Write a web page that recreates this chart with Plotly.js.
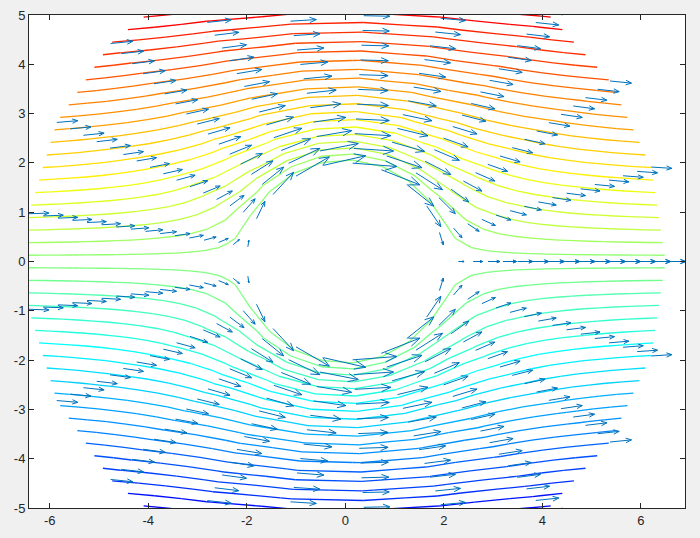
<!DOCTYPE html>
<html><head><meta charset="utf-8">
<script src="https://cdn.plot.ly/plotly-3.0.1.min.js"></script>
<style>html,body{margin:0;padding:0;background:#f0f0f0;}#chart{width:700px;height:538px;}</style>
</head><body><div id="chart"></div>
<script>
// Polar sampling grid (radius 2 .. 6.5, step 0.3; 22 spokes)
const radii = [2.0, 2.3, 2.6, 2.9, 3.2, 3.5, 3.8, 4.1, 4.4, 4.7, 5.0, 5.3, 5.6, 5.9, 6.2, 6.5];
const anglesDeg = [0, 17.143, 34.286, 51.429, 68.571, 85.714, 102.857, 120, 137.143, 154.286, 171.429,
  188.571, 205.714, 222.857, 240, 257.143, 274.286, 291.429, 308.571, 325.714, 342.857, 360];
// Stream function on the grid: one row per spoke, one column per radius
const streamFunction = [
  [0,0,0,0,0,0,0,0,0,0,0,0,0,0,0,0],
  [0,0.1653,0.3129,0.4482,0.5748,0.6948,0.8098,0.9210,1.0290,1.1345,1.2380,1.3398,1.4401,1.5393,1.6373,1.7346],
  [0,0.3160,0.5980,0.8566,1.0985,1.3278,1.5477,1.7600,1.9665,2.1682,2.3659,2.5605,2.7522,2.9417,3.1292,3.3149],
  [0,0.4385,0.8299,1.1889,1.5246,1.8429,2.1480,2.4427,2.7293,3.0092,3.2837,3.5536,3.8198,4.0827,4.3429,4.6008],
  [0,0.5221,0.9882,1.4156,1.8152,2.1942,2.5574,2.9084,3.2496,3.5829,3.9097,4.2311,4.5480,4.8610,5.1708,5.4778],
  [0,0.5593,1.0586,1.5164,1.9445,2.3505,2.7397,3.1156,3.4811,3.8382,4.1882,4.5326,4.8720,5.2074,5.5393,5.8681],
  [0,0.5468,1.0349,1.4826,1.9011,2.2981,2.6785,3.0461,3.4034,3.7525,4.0947,4.4313,4.7632,5.0911,5.4156,5.7371],
  [0,0.4857,0.9193,1.3170,1.6888,2.0414,2.3793,2.7058,3.0232,3.3333,3.6373,3.9364,4.2312,4.5224,4.8107,5.0963],
  [0,0.3815,0.7220,1.0343,1.3263,1.6033,1.8687,2.1251,2.3744,2.6179,2.8567,3.0916,3.3231,3.5519,3.7782,4.0025],
  [0,0.2434,0.4606,0.6598,0.8461,1.0227,1.1920,1.3556,1.5146,1.6700,1.8223,1.9721,2.1198,2.2657,2.4101,2.5532],
  [0,0.0836,0.1582,0.2266,0.2906,0.3513,0.4095,0.4657,0.5203,0.5737,0.6260,0.6774,0.7282,0.7783,0.8279,0.8770],
  [0,-0.0836,-0.1582,-0.2266,-0.2906,-0.3513,-0.4095,-0.4657,-0.5203,-0.5737,-0.6260,-0.6774,-0.7282,-0.7783,-0.8279,-0.8770],
  [0,-0.2434,-0.4606,-0.6598,-0.8461,-1.0227,-1.1920,-1.3556,-1.5146,-1.6700,-1.8223,-1.9721,-2.1198,-2.2657,-2.4101,-2.5532],
  [0,-0.3815,-0.7220,-1.0343,-1.3263,-1.6033,-1.8687,-2.1251,-2.3744,-2.6179,-2.8567,-3.0916,-3.3231,-3.5519,-3.7782,-4.0025],
  [0,-0.4857,-0.9193,-1.3170,-1.6888,-2.0414,-2.3793,-2.7058,-3.0232,-3.3333,-3.6373,-3.9364,-4.2312,-4.5224,-4.8107,-5.0963],
  [0,-0.5468,-1.0349,-1.4826,-1.9011,-2.2981,-2.6785,-3.0461,-3.4034,-3.7525,-4.0947,-4.4313,-4.7632,-5.0911,-5.4156,-5.7371],
  [0,-0.5593,-1.0586,-1.5164,-1.9445,-2.3505,-2.7397,-3.1156,-3.4811,-3.8382,-4.1882,-4.5326,-4.8720,-5.2074,-5.5393,-5.8681],
  [0,-0.5221,-0.9882,-1.4156,-1.8152,-2.1942,-2.5574,-2.9084,-3.2496,-3.5829,-3.9097,-4.2311,-4.5480,-4.8610,-5.1708,-5.4778],
  [0,-0.4385,-0.8299,-1.1889,-1.5246,-1.8429,-2.1480,-2.4427,-2.7293,-3.0092,-3.2837,-3.5536,-3.8198,-4.0827,-4.3429,-4.6008],
  [0,-0.3160,-0.5980,-0.8566,-1.0985,-1.3278,-1.5477,-1.7600,-1.9665,-2.1682,-2.3659,-2.5605,-2.7522,-2.9417,-3.1292,-3.3149],
  [0,-0.1653,-0.3129,-0.4482,-0.5748,-0.6948,-0.8098,-0.9210,-1.0290,-1.1345,-1.2380,-1.3398,-1.4401,-1.5393,-1.6373,-1.7346],
  [0,0,0,0,0,0,0,0,0,0,0,0,0,0,0,0]
];
const contourLevelCount = 50;
const xTickValues = [-6, -4, -2, 0, 2, 4, 6];
const xTickLabels = ['-6', '-4', '-2', '0', '2', '4', '6'];
const yTickValues = [-5, -4, -3, -2, -1, 0, 1, 2, 3, 4, 5];
const yTickLabels = ['-5', '-4', '-3', '-2', '-1', '0', '1', '2', '3', '4', '5'];

// ---- styling helpers ----
function jetMap(m) {
  const n = Math.ceil(m / 4), u = [];
  for (let i = 1; i <= n; i++) u.push(i / n);
  for (let i = 0; i < n - 1; i++) u.push(1);
  for (let i = n; i >= 1; i--) u.push(i / n);
  const off = Math.ceil(n / 2) - (m % 4 === 1 ? 1 : 0);
  const g = u.map((_, i) => off + i + 1);
  const J = Array.from({length: m}, () => [0, 0, 0]);
  const r = g.map(v => v + n).filter(v => v <= m);
  const gg = g.filter(v => v <= m);
  const b = g.map(v => v - n).filter(v => v >= 1);
  r.forEach((row, i) => J[row - 1][0] = u[i]);
  gg.forEach((row, i) => J[row - 1][1] = u[i]);
  b.forEach((row, i) => J[row - 1][2] = u[u.length - b.length + i]);
  return J;
}
const cmap = jetMap(64);
function toRgb(c) { return 'rgb(' + c.map(v => Math.round(v * 255)).join(',') + ')'; }

// grid node positions (polar -> cartesian)
const nT = anglesDeg.length, nR = radii.length;
const X = [], Y = [];
for (let k = 0; k < nT; k++) {
  const a = anglesDeg[k] * Math.PI / 180;
  X.push(radii.map(r => r * Math.cos(a)));
  Y.push(radii.map(r => r * Math.sin(a)));
}
let zmin = Infinity, zmax = -Infinity;
streamFunction.forEach(row => row.forEach(v => { zmin = Math.min(zmin, v); zmax = Math.max(zmax, v); }));
const levels = [];
for (let m = 1; m <= contourLevelCount; m++) levels.push(zmin + (zmax - zmin) * m / (contourLevelCount + 1));

function contourSegments(L) {
  const xs = [], ys = [];
  for (let k = 0; k < nT - 1; k++) {
    for (let i = 0; i < nR - 1; i++) {
      const c = [[k, i], [k, i + 1], [k + 1, i + 1], [k + 1, i]];
      const pts = [];
      for (let e = 0; e < 4; e++) {
        const [k1, i1] = c[e], [k2, i2] = c[(e + 1) % 4];
        const z1 = streamFunction[k1][i1] - L, z2 = streamFunction[k2][i2] - L;
        if ((z1 < 0) !== (z2 < 0)) {
          const t = z1 / (z1 - z2);
          pts.push([X[k1][i1] + t * (X[k2][i2] - X[k1][i1]), Y[k1][i1] + t * (Y[k2][i2] - Y[k1][i1])]);
        }
      }
      const pairs = pts.length === 2 ? [[0, 1]] : pts.length === 4 ? [[0, 1], [2, 3]] : [];
      pairs.forEach(([p, q]) => { xs.push(pts[p][0], pts[q][0], null); ys.push(pts[p][1], pts[q][1], null); });
    }
  }
  return {xs, ys};
}

const traces = [];
levels.forEach(L => {
  const s = contourSegments(L);
  if (!s.xs.length) return;
  let idx = Math.floor((L - zmin) / (zmax - zmin) * 64);
  idx = Math.max(0, Math.min(63, idx));
  traces.push({type: 'scatter', mode: 'lines', x: s.xs, y: s.ys, hoverinfo: 'skip', showlegend: false,
    line: {color: toRgb(cmap[idx]), width: 1.3}});
});

// velocity field from the stream function (finite differences on the grid)
const h = radii[1] - radii[0];
const dTh = (anglesDeg[1] - anglesDeg[0]) * Math.PI / 180;
const U = [], V = [];
for (let k = 0; k < nT; k++) {
  const kk = k % (nT - 1), km = (kk - 1 + nT - 1) % (nT - 1), kp = (kk + 1) % (nT - 1);
  const a = anglesDeg[k] * Math.PI / 180;
  const ur = [], vr = [];
  for (let i = 0; i < nR; i++) {
    const Z = streamFunction;
    const dth = (Z[kp][i] - Z[km][i]) / (2 * dTh);
    let dr;
    if (i === 0) dr = (-3 * Z[k][0] + 4 * Z[k][1] - Z[k][2]) / (2 * h);
    else if (i === nR - 1) dr = (3 * Z[k][i] - 4 * Z[k][i - 1] + Z[k][i - 2]) / (2 * h);
    else dr = (Z[k][i + 1] - Z[k][i - 1]) / (2 * h);
    const vrad = dth / radii[i], vtan = -dr;
    ur.push(vrad * Math.cos(a) - vtan * Math.sin(a));
    vr.push(vrad * Math.sin(a) + vtan * Math.cos(a));
  }
  U.push(ur); V.push(vr);
}
// MATLAB-like quiver autoscale
let xmn = Infinity, xmx = -Infinity, ymn = Infinity, ymx = -Infinity, maxSp = 0;
for (let k = 0; k < nT; k++) for (let i = 0; i < nR; i++) {
  xmn = Math.min(xmn, X[k][i]); xmx = Math.max(xmx, X[k][i]);
  ymn = Math.min(ymn, Y[k][i]); ymx = Math.max(ymx, Y[k][i]);
  maxSp = Math.max(maxSp, Math.hypot(U[k][i], V[k][i]));
}
const del = Math.pow((xmx - xmn) / nR, 2) + Math.pow((ymx - ymn) / nT, 2);
const scale = 0.9 * Math.sqrt(del) / maxSp;
const alpha = 0.26, beta = 0.4;
const qx = [], qy = [];
for (let k = 0; k < nT; k++) for (let i = 0; i < nR; i++) {
  const x = X[k][i], y = Y[k][i], u = U[k][i] * scale, v = V[k][i] * scale;
  if (Math.hypot(u, v) < 1e-3) continue;
  qx.push(x, x + u, null, x + u - alpha * (u + beta * v), x + u, x + u - alpha * (u - beta * v), null);
  qy.push(y, y + v, null, y + v - alpha * (v - beta * u), y + v, y + v - alpha * (v + beta * u), null);
}
traces.push({type: 'scatter', mode: 'lines', x: qx, y: qy, hoverinfo: 'skip', showlegend: false,
  line: {color: '#0072BD', width: 1}});

const axisFont = {family: 'Arial, "Liberation Sans", sans-serif', size: 13, color: '#262626'};
const axisCommon = {showgrid: false, zeroline: false, showline: true, linecolor: '#262626', linewidth: 1,
  mirror: 'ticks', ticks: 'inside', ticklen: 5, tickwidth: 1, tickcolor: '#262626', tickfont: axisFont};
const layout = {
  width: 700, height: 538, paper_bgcolor: '#f0f0f0', plot_bgcolor: '#ffffff', showlegend: false,
  margin: {l: 29, r: 15, t: 15, b: 30, pad: 0},
  xaxis: Object.assign({}, axisCommon, {range: [-6.42, 6.895], tickmode: 'array', tickvals: xTickValues, ticktext: xTickLabels}),
  yaxis: Object.assign({}, axisCommon, {range: [-5, 5], tickmode: 'array', tickvals: yTickValues, ticktext: yTickLabels})
};
Plotly.newPlot('chart', traces, layout, {staticPlot: true, displayModeBar: false});
</script></body></html>
